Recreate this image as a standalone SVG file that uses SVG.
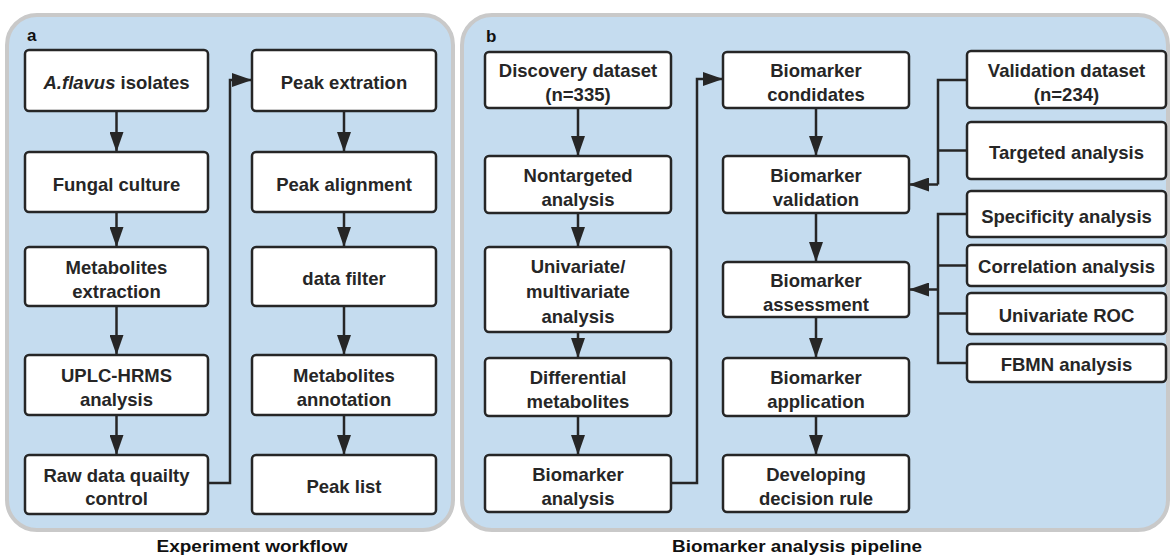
<svg xmlns="http://www.w3.org/2000/svg" width="1173" height="557" viewBox="0 0 1173 557">
<defs>
<marker id="ah" markerUnits="userSpaceOnUse" markerWidth="20" markerHeight="14" refX="20" refY="7" orient="auto">
<path d="M0,0 L20,7 L0,14 Z" fill="#262626"/>
</marker>
<style>
.panel{fill:#c5dcef;stroke:#c9c9c9;stroke-width:4}
.box{fill:#fff;stroke:#262626;stroke-width:2.5}
.t{font-family:"Liberation Sans",Arial,sans-serif;font-weight:bold;font-size:18.5px;fill:#262626;text-anchor:middle}
.lbl{font-family:"Liberation Sans",Arial,sans-serif;font-weight:bold;font-size:17px;fill:#111}
.cap{font-family:"Liberation Sans",Arial,sans-serif;font-weight:bold;font-size:17px;fill:#111;text-anchor:middle}
.c{fill:none;stroke:#262626;stroke-width:2.5}
.a{marker-end:url(#ah)}
</style>
</defs>
<rect class="panel" x="7" y="15" width="446" height="515" rx="30"/>
<rect class="panel" x="462" y="15" width="706" height="515" rx="30"/>
<text class="lbl" x="27" y="41">a</text>
<text class="lbl" x="486" y="42">b</text>
<text class="cap" x="252" y="552" textLength="191" lengthAdjust="spacingAndGlyphs">Experiment workflow</text>
<text class="cap" x="797" y="552" textLength="250" lengthAdjust="spacingAndGlyphs">Biomarker analysis pipeline</text>

<g id="connectors">
<path class="c a" d="M116.5,111 V152"/>
<path class="c a" d="M116.5,212 V247"/>
<path class="c a" d="M116.5,306 V355"/>
<path class="c a" d="M116.5,415 V455"/>
<path class="c a" d="M344,111 V152"/>
<path class="c a" d="M344,212 V247"/>
<path class="c a" d="M344,306 V355"/>
<path class="c a" d="M344,415 V455"/>
<path class="c a" d="M208,483 H230 V80 H252"/>
<path class="c a" d="M578,108 V156"/>
<path class="c a" d="M578,213 V247"/>
<path class="c a" d="M578,332 V358"/>
<path class="c a" d="M578,416 V455"/>
<path class="c a" d="M816,108 V156"/>
<path class="c a" d="M816,213 V262"/>
<path class="c a" d="M816,317 V358"/>
<path class="c a" d="M816,416 V455"/>
<path class="c a" d="M671,483 H697 V79 H723"/>
<path class="c" d="M967,80 H938 V184.5"/>
<path class="c" d="M967,150.5 H938"/>
<path class="c a" d="M938,184.5 H909"/>
<path class="c" d="M967,214 H938 V363 H967"/>
<path class="c" d="M967,265.5 H938"/>
<path class="c" d="M967,313.5 H938"/>
<path class="c a" d="M938,289.5 H909"/>
</g>

<g id="a1"><rect class="box" x="25" y="50" width="183" height="61" rx="4"/><text class="t" x="116.5" y="89"><tspan font-style="italic">A.flavus</tspan> isolates</text></g>
<g id="a2"><rect class="box" x="25" y="152" width="183" height="60" rx="4"/><text class="t" x="116.5" y="190.5">Fungal culture</text></g>
<g id="a3"><rect class="box" x="25" y="247" width="183" height="59" rx="4"/><text class="t" x="116.5" y="273.5">Metabolites</text><text class="t" x="116.5" y="298">extraction</text></g>
<g id="a4"><rect class="box" x="25" y="355" width="183" height="60" rx="4"/><text class="t" x="116.5" y="382">UPLC-HRMS</text><text class="t" x="116.5" y="406">analysis</text></g>
<g id="a5"><rect class="box" x="25" y="455" width="183" height="59" rx="4"/><text class="t" x="116.5" y="482">Raw data quailty</text><text class="t" x="116.5" y="505">control</text></g>
<g id="a6"><rect class="box" x="252" y="50" width="184" height="61" rx="4"/><text class="t" x="344" y="89">Peak extration</text></g>
<g id="a7"><rect class="box" x="252" y="152" width="184" height="60" rx="4"/><text class="t" x="344" y="190.5">Peak alignment</text></g>
<g id="a8"><rect class="box" x="252" y="247" width="184" height="59" rx="4"/><text class="t" x="344" y="285">data filter</text></g>
<g id="a9"><rect class="box" x="252" y="355" width="184" height="60" rx="4"/><text class="t" x="344" y="382">Metabolites</text><text class="t" x="344" y="406">annotation</text></g>
<g id="a10"><rect class="box" x="252" y="455" width="184" height="59" rx="4"/><text class="t" x="344" y="493">Peak list</text></g>

<g id="b1"><rect class="box" x="485" y="52" width="186" height="56" rx="4"/><text class="t" x="578" y="77">Discovery dataset</text><text class="t" x="578" y="101">(n=335)</text></g>
<g id="b2"><rect class="box" x="485" y="156" width="186" height="57" rx="4"/><text class="t" x="578" y="181.5">Nontargeted</text><text class="t" x="578" y="205.5">analysis</text></g>
<g id="b3"><rect class="box" x="485" y="247" width="186" height="85" rx="4"/><text class="t" x="578" y="273">Univariate/</text><text class="t" x="578" y="298">multivariate</text><text class="t" x="578" y="323">analysis</text></g>
<g id="b4"><rect class="box" x="485" y="358" width="186" height="58" rx="4"/><text class="t" x="578" y="384">Differential</text><text class="t" x="578" y="408">metabolites</text></g>
<g id="b5"><rect class="box" x="485" y="455" width="186" height="57" rx="4"/><text class="t" x="578" y="480.5">Biomarker</text><text class="t" x="578" y="504.5">analysis</text></g>
<g id="b6"><rect class="box" x="723" y="52" width="186" height="56" rx="4"/><text class="t" x="816" y="77">Biomarker</text><text class="t" x="816" y="101">condidates</text></g>
<g id="b7"><rect class="box" x="723" y="156" width="186" height="57" rx="4"/><text class="t" x="816" y="181.5">Biomarker</text><text class="t" x="816" y="205.5">validation</text></g>
<g id="b8"><rect class="box" x="723" y="262" width="186" height="55" rx="4"/><text class="t" x="816" y="286.5">Biomarker</text><text class="t" x="816" y="310.5">assessment</text></g>
<g id="b9"><rect class="box" x="723" y="358" width="186" height="58" rx="4"/><text class="t" x="816" y="384">Biomarker</text><text class="t" x="816" y="408">application</text></g>
<g id="b10"><rect class="box" x="723" y="455" width="186" height="57" rx="4"/><text class="t" x="816" y="480.5">Developing</text><text class="t" x="816" y="504.5">decision rule</text></g>
<g id="b11"><rect class="box" x="967" y="51" width="199" height="57" rx="4"/><text class="t" x="1066.5" y="76.5">Validation dataset</text><text class="t" x="1066.5" y="100.5">(n=234)</text></g>
<g id="b12"><rect class="box" x="967" y="122" width="199" height="57" rx="4"/><text class="t" x="1066.5" y="159">Targeted analysis</text></g>
<g id="b13"><rect class="box" x="967" y="191" width="199" height="46" rx="4"/><text class="t" x="1066.5" y="222.5">Specificity analysis</text></g>
<g id="b14"><rect class="box" x="967" y="245" width="199" height="41" rx="4"/><text class="t" x="1066.5" y="273">Correlation analysis</text></g>
<g id="b15"><rect class="box" x="967" y="293" width="199" height="41" rx="4"/><text class="t" x="1066.5" y="321.5">Univariate ROC</text></g>
<g id="b16"><rect class="box" x="967" y="344" width="199" height="38" rx="4"/><text class="t" x="1066.5" y="370.5">FBMN analysis</text></g>
</svg>
